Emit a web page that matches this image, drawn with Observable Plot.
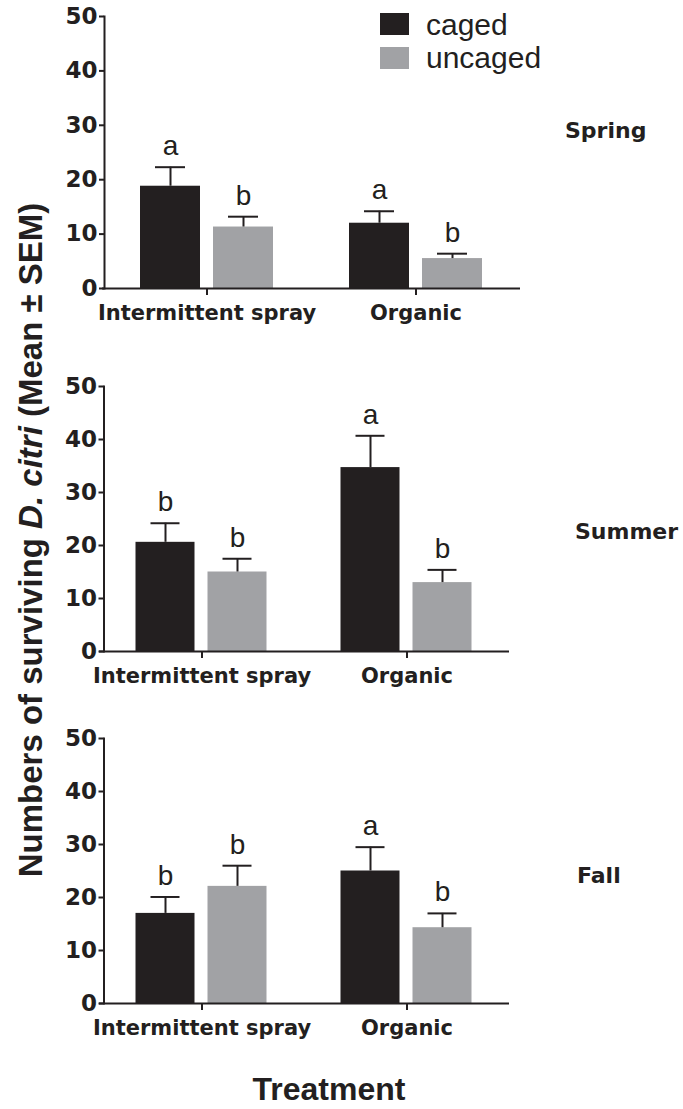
<!DOCTYPE html>
<html><head><meta charset="utf-8">
<script src="https://cdn.jsdelivr.net/npm/d3@7"></script>
<script src="https://cdn.jsdelivr.net/npm/@observablehq/plot@0.6"></script>
<style>
body{margin:0;background:#fff}
#wrap{position:relative;width:683px;height:1109px;overflow:hidden;background:#fff}
#wrap > svg{position:absolute}
</style></head><body><div id="wrap"></div>
<script>
// ---- data ----
const treatments = ["Intermittent spray", "Organic"];
const cages = ["caged", "uncaged"];
const seasons = ["Spring", "Summer", "Fall"];
const yTicks = [0, 10, 20, 30, 40, 50];
// order: IS caged, IS uncaged, Organic caged, Organic uncaged
const springMean = [18.8, 11.3, 12.0, 5.5];
const springSem = [3.5, 1.9, 2.2, 0.9];
const springLetters = ["a", "b", "a", "b"];
const summerMean = [20.6, 15.0, 34.7, 13.0];
const summerSem = [3.6, 2.5, 6.0, 2.4];
const summerLetters = ["b", "b", "a", "b"];
const fallMean = [17.0, 22.1, 25.0, 14.3];
const fallSem = [3.1, 3.9, 4.5, 2.7];
const fallLetters = ["b", "b", "a", "b"];
const yTitle = ["Numbers of surviving ", "D. citri", " (Mean ± SEM)"];
const xTitle = "Treatment";

const INK = "#231f20";
const colors = ["#231f20", "#a1a2a5"];

function rows(means, sems, letters) {
  const out = [];
  treatments.forEach((t, i) => cages.forEach((c, j) => {
    const k = i * 2 + j;
    out.push({treatment: t, cage: c, mean: means[k], hi: means[k] + sems[k], letter: letters[k]});
  }));
  return out;
}

const panels = [
  {season: seasons[0], data: rows(springMean, springSem, springLetters), top: 0, plotH: 272, ml: 101, fw: 209.5, axisDx: 2, label: {x: 565, y: 138}},
  {season: seasons[1], data: rows(summerMean, summerSem, summerLetters), top: 370, plotH: 265, ml: 98.5, fw: 205, axisDx: 4.5, label: {x: 575, y: 539}},
  {season: seasons[2], data: rows(fallMean, fallSem, fallLetters), top: 722, plotH: 265, ml: 98.5, fw: 205, axisDx: 4.5, label: {x: 577, y: 883}}
];

const wrap = document.getElementById("wrap");

for (const p of panels) {
  const plot = Plot.plot({
    width: Math.round(p.ml + 2 * p.fw),
    height: 16 + p.plotH + 42,
    marginLeft: p.ml,
    marginRight: 0,
    marginTop: 16,
    marginBottom: 42,
    style: {color: INK, fontFamily: "DejaVu Sans", background: "transparent", overflow: "visible"},
    fx: {domain: treatments, padding: 0, label: null, axis: null},
    x: {domain: cages, paddingInner: 0.175, paddingOuter: 0.5, axis: null},
    y: {domain: [0, 50], axis: null},
    color: {domain: cages, range: colors},
    marks: [
      Plot.barY(p.data, {fx: "treatment", x: "cage", y: "mean", fill: "cage"}),
      Plot.ruleX(p.data, {fx: "treatment", x: "cage", y1: "mean", y2: "hi", stroke: INK, strokeWidth: 2}),
      Plot.tickY(p.data, {fx: "treatment", x: "cage", y: "hi", stroke: INK, strokeWidth: 2, insetLeft: 15, insetRight: 15}),
      Plot.text(p.data, {fx: "treatment", x: "cage", y: "hi", text: "letter", lineAnchor: "bottom", dy: -12,
        fontSize: 28, fontFamily: "Liberation Sans", fill: INK}),
      Plot.ruleY([0], {stroke: INK, strokeWidth: 2}),
      Plot.frame({anchor: "left", facetAnchor: "left", dx: p.axisDx, stroke: INK, strokeWidth: 2}),
      Plot.axisY({ticks: yTicks, tickSize: 5, tickPadding: 2, fontSize: 23, fontWeight: "bold",
        strokeWidth: 2, dx: p.axisDx, label: null, tickFormat: d3.format("d")}),
      Plot.axisFx({anchor: "bottom", tickSize: 7, tickPadding: 10, fontSize: 21, fontWeight: "bold", strokeWidth: 2, label: null})
    ]
  });
  plot.style.left = "0px";
  plot.style.top = p.top + "px";
  wrap.appendChild(plot);
}

// overlay for labels, legend and titles
const svg = d3.select(wrap).append("svg")
  .attr("width", 683).attr("height", 1109)
  .style("left", "0px").style("top", "0px").style("pointer-events", "none");

for (const p of panels) {
  svg.append("text").attr("x", p.label.x).attr("y", p.label.y)
    .attr("font-family", "DejaVu Sans").attr("font-weight", "bold").attr("font-size", 22)
    .attr("fill", INK).text(p.season);
}

// legend
cages.forEach((c, i) => {
  svg.append("rect").attr("x", 380).attr("y", 13 + i * 34).attr("width", 29).attr("height", 22).attr("fill", colors[i]);
  svg.append("text").attr("x", 426).attr("y", 35 + i * 33)
    .attr("font-family", "Liberation Sans").attr("font-size", 30).attr("fill", INK).text(c);
});

// y title
const yt = svg.append("text")
  .attr("transform", "translate(42,540) rotate(-90)")
  .attr("text-anchor", "middle")
  .attr("font-family", "Liberation Sans").attr("font-weight", "bold").attr("font-size", 33).attr("fill", INK);
yt.append("tspan").text(yTitle[0]);
yt.append("tspan").attr("font-style", "italic").text(yTitle[1]);
yt.append("tspan").text(yTitle[2]);

// x title
svg.append("text").attr("x", 329).attr("y", 1100).attr("text-anchor", "middle")
  .attr("font-family", "Liberation Sans").attr("font-weight", "bold").attr("font-size", 32)
  .attr("fill", INK).text(xTitle);
</script>
</body></html>
